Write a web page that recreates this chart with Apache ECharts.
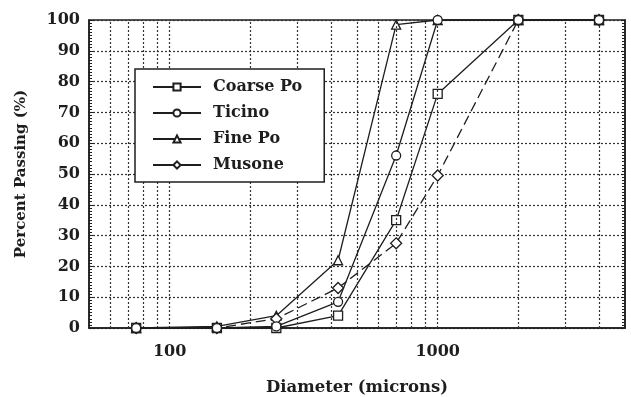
<!DOCTYPE html>
<html><head><meta charset="utf-8">
<script src="https://cdn.jsdelivr.net/npm/echarts@6/dist/echarts.min.js"></script>
<style>html,body{margin:0;padding:0;background:#fff}#c{width:631px;height:397px}</style>
</head><body><div id="c"></div>
<script>
const sizes = [75, 150, 250, 425, 700, 1000, 2000, 4000];
const coarsePo = [0, 0, 0, 4, 35, 76, 100, 100];
const ticino = [0, 0, 0.5, 8.5, 56, 100, 100, 100];
const finePo = [0, 0.5, 4, 22, 98.5, 100, 100, 100];
const musone = [0, 0, 3, 13, 27.5, 49.5, 100, 100];
const xGridValues = [60, 70, 80, 90, 100, 200, 300, 400, 500, 600, 700, 800, 900, 1000, 2000, 3000, 4000];
const xTickLabels = [100, 1000];
const yTicks = [0, 10, 20, 30, 40, 50, 60, 70, 80, 90, 100];

const FONT = 'DejaVu Serif';
const ink = '#1e1e1e';
function pairs(v) { return sizes.map((s, i) => [s, v[i]]); }
function mk(name, vals, symbol, dashed, z) {
  return {
    name, type: 'line', data: pairs(vals), symbol, symbolSize: symbol === 'diamond' ? 11 : 9,
    z: z, showAllSymbol: true,
    lineStyle: { color: ink, width: 1.3, type: dashed ? [10, 5] : 'solid' },
    itemStyle: { color: '#fff', borderColor: ink, borderWidth: 1.3 },
    emphasis: { disabled: true }, animation: false
  };
}
const chart = echarts.init(document.getElementById('c'), null, { renderer: 'canvas' });
chart.setOption({
  backgroundColor: '#fff',
  animation: false,
  grid: { left: 89, top: 20, right: 6, bottom: 69, show: true, borderColor: ink, borderWidth: 1.5, backgroundColor: 'transparent', containLabel: false, outerBoundsMode: 'none' },
  xAxis: {
    type: 'log', logBase: 10, min: 50, max: 5000,
    name: 'Diameter (microns)', nameLocation: 'middle', nameGap: 51,
    nameTextStyle: { fontFamily: FONT, fontWeight: 'bold', fontSize: 16.5, color: ink },
    axisLine: { lineStyle: { color: ink, width: 1.5 } },
    axisTick: { show: false },
    splitLine: { show: false },
    axisLabel: { customValues: xTickLabels, formatter: v => String(Math.round(v)), fontFamily: FONT, fontWeight: 'bold', fontSize: 16, color: ink, margin: 16 }
  },
  yAxis: [{
    type: 'value', min: 0, max: 100, interval: 10,
    name: 'Percent Passing (%)', nameLocation: 'middle', nameGap: 60,
    nameTextStyle: { fontFamily: FONT, fontWeight: 'bold', fontSize: 15, color: ink },
    axisLine: { show: true, lineStyle: { color: ink, width: 1.5 } },
    axisTick: { show: true, inside: true, length: 4, lineStyle: { color: ink } },
    minorTick: { show: true, splitNumber: 10, length: 3, lineStyle: { color: ink } },
    splitLine: { show: true, lineStyle: { color: '#333', width: 1.2, type: [2, 2] } },
    axisLabel: { fontFamily: FONT, fontWeight: 'bold', fontSize: 16, color: ink, margin: 9 }
  }, {
    type: 'value', min: 0, max: 100, interval: 10, position: 'right',
    axisLine: { show: true, lineStyle: { color: ink, width: 1.5 } },
    axisTick: { show: true, inside: true, length: 4, lineStyle: { color: ink } },
    minorTick: { show: true, splitNumber: 10, length: 3, lineStyle: { color: ink } },
    splitLine: { show: false }, axisLabel: { show: false }
  }],
  legend: {
    orient: 'vertical', left: 135, top: 69,
    data: ['Coarse Po', 'Ticino', 'Fine Po', 'Musone'],
    backgroundColor: '#fff', borderColor: ink, borderWidth: 1.5,
    padding: [10, 22, 9, 17], itemWidth: 48, itemHeight: 9, itemGap: 10,
    lineStyle: { type: 'solid' },
    textStyle: { fontFamily: FONT, fontWeight: 'bold', fontSize: 16, color: ink, padding: [0, 0, 0, 7] },
    selectedMode: false, z: 10
  },
  series: [
    {
      name: 'grid', type: 'line', data: [], silent: true, z: 1,
      markLine: {
        silent: true, symbol: 'none', animation: false, label: { show: false },
        lineStyle: { color: '#333', width: 1.2, type: [2, 2] },
        data: xGridValues.map(v => ({ xAxis: v }))
      }
    },
    mk('Coarse Po', coarsePo, 'rect', false, 3),
    mk('Fine Po', finePo, 'triangle', false, 4),
    mk('Musone', musone, 'diamond', true, 5),
    mk('Ticino', ticino, 'circle', false, 6)
  ]
});
</script></body></html>
